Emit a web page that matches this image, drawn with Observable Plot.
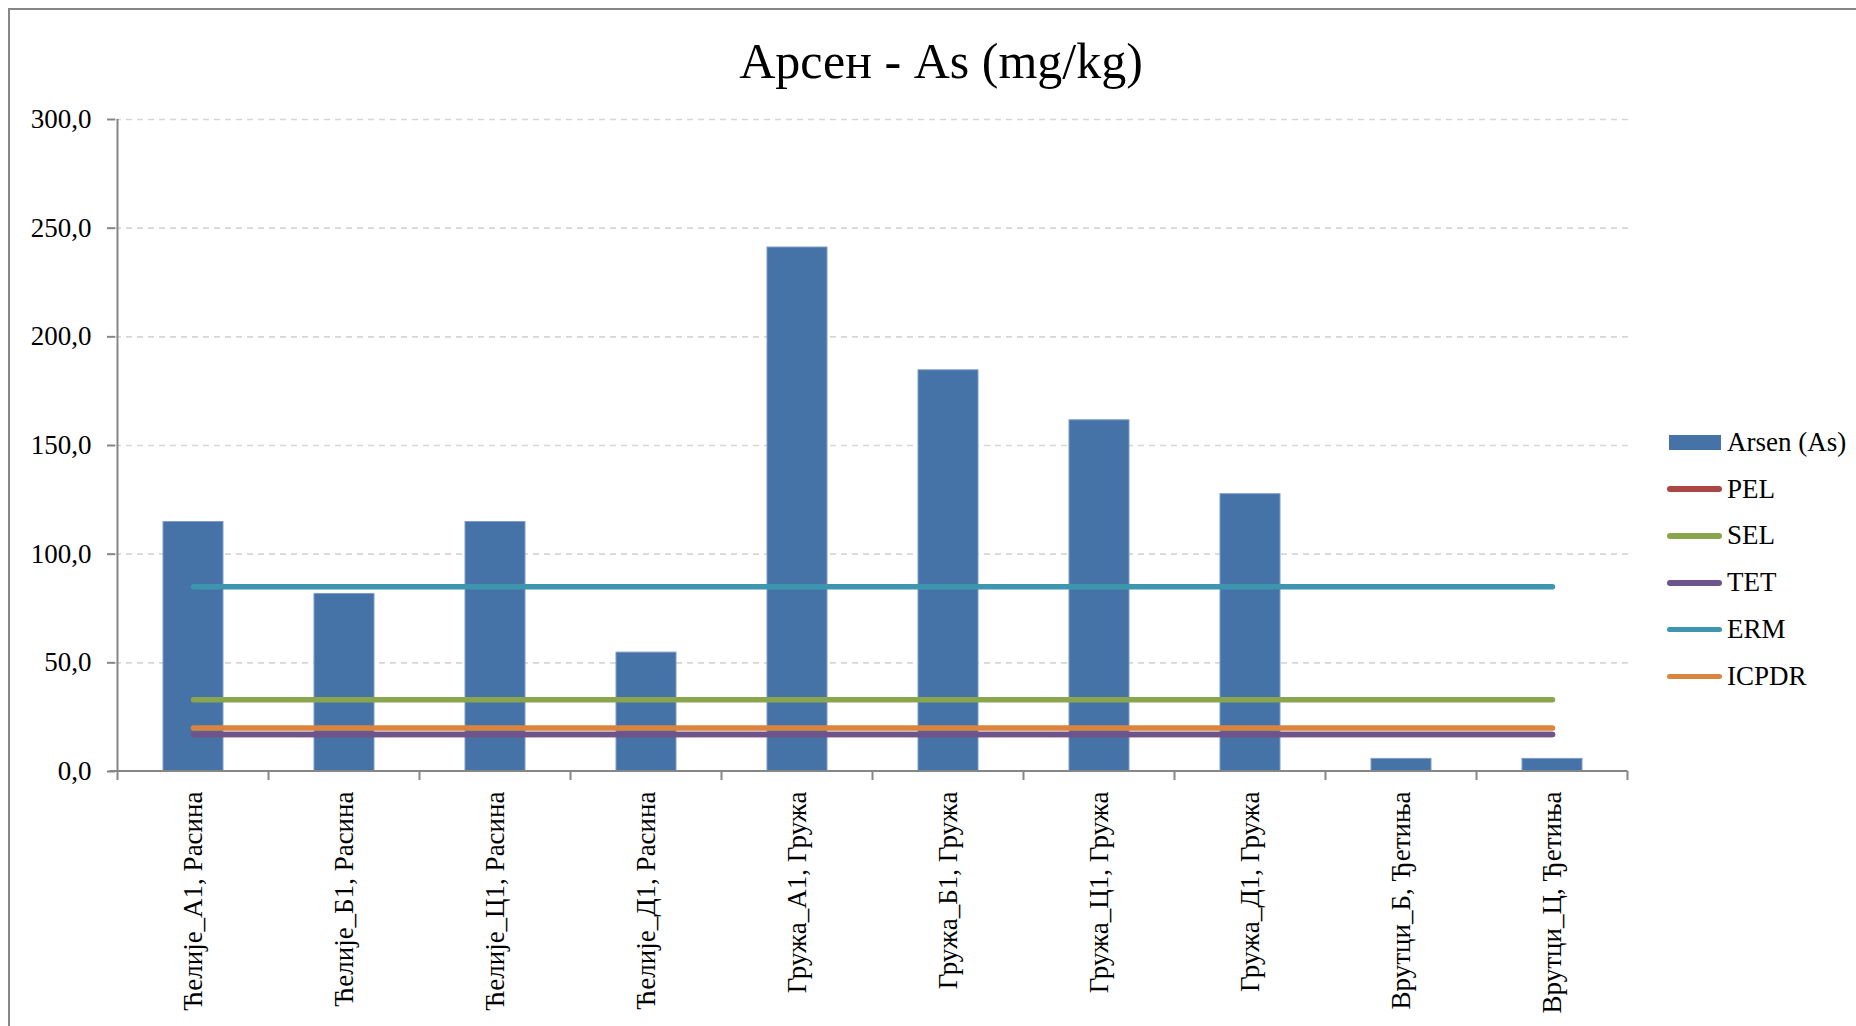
<!DOCTYPE html>
<html>
<head>
<meta charset="utf-8">
<script src="https://cdn.jsdelivr.net/npm/d3@7"></script>
<script src="https://cdn.jsdelivr.net/npm/@observablehq/plot@0.6"></script>
<style>
  html, body { margin: 0; padding: 0; background: #fff; overflow: hidden; width: 1856px; height: 1026px; }
  #frame { position: absolute; left: 8px; top: 8px; width: 1900px; height: 1100px; border: 2px solid #878787; box-sizing: border-box; }
  #chart { position: absolute; left: 0; top: 0; }
  #title { position: absolute; left: 0; top: 36px; width: 1882px; text-align: center; font-family: "Liberation Serif", serif; font-size: 50px; line-height: 50px; color: #000; white-space: nowrap; }
  #legend { position: absolute; left: 1667px; top: 419px; font-family: "Liberation Serif", serif; font-size: 27px; color: #000; }
  .row { display: flex; align-items: center; height: 46.8px; white-space: nowrap; }
  .swbox { width: 60px; display: flex; align-items: center; }
  .swbar { width: 52px; height: 15px; margin-left: 2px; }
  .swline { width: 55px; height: 5.5px; border-radius: 3px; }
</style>
</head>
<body>
<div id="frame"></div>
<div id="chart"></div>
<div id="title"></div>
<div id="legend"></div>
<script>
// ---- data ----
const title = "Арсен - As (mg/kg)";
const categories = [
  "Ћелије_А1, Расина", "Ћелије_Б1, Расина", "Ћелије_Ц1, Расина", "Ћелије_Д1, Расина",
  "Гружа_А1, Гружа", "Гружа_Б1, Гружа", "Гружа_Ц1, Гружа", "Гружа_Д1, Гружа",
  "Врутци_Б, Ђетиња", "Врутци_Ц, Ђетиња"
];
const barSeriesName = "Arsen (As)";
const arsenValues = [114.8, 81.7, 114.8, 54.7, 241.1, 184.6, 161.6, 127.6, 5.8, 5.8];
const thresholdNames = ["PEL", "SEL", "TET", "ERM", "ICPDR"];
const thresholdValues = [17, 33, 17, 85, 20];
const barColor = "#4572A7";
const thresholdColors = ["#AA4643", "#89A54E", "#6E548D", "#3D96AE", "#DB843D"];
const yTicks = [0, 50, 100, 150, 200, 250, 300];

// ---- tables built from the arrays ----
const barData = categories.map((c, i) => ({cat: c, value: arsenValues[i]}));
const lineData = thresholdNames.flatMap((n, j) => categories.map(c => ({cat: c, name: n, value: thresholdValues[j]})));

const fmt = d => d.toFixed(1).replace(".", ",");

function axisLines(index, scales, values, dimensions) {
  const x = scales.x, y = scales.y;
  const bw = typeof x.bandwidth === "function" ? x.bandwidth() : x.bandwidth;
  const step = x(categories[1]) - x(categories[0]);
  const bounds = categories.map(c => x(c) + bw / 2 - step / 2);
  bounds.push(bounds[bounds.length - 1] + step);
  const y0 = y(0), yTop = y(yTicks[yTicks.length - 1]);
  const g = d3.create("svg:g").attr("stroke", "#868686").attr("stroke-width", 2).attr("fill", "none");
  g.append("line").attr("x1", bounds[0]).attr("x2", bounds[0]).attr("y1", yTop).attr("y2", y0);
  g.append("line").attr("x1", bounds[0] - 8).attr("x2", bounds[bounds.length - 1]).attr("y1", y0).attr("y2", y0);
  for (const b of bounds) {
    g.append("line").attr("x1", b).attr("x2", b).attr("y1", y0).attr("y2", y0 + 9);
  }
  return g.node();
}

const chart = Plot.plot({
  width: 1856,
  height: 1026,
  marginLeft: 115,
  marginRight: 227,
  marginTop: 119,
  marginBottom: 255,
  style: {fontFamily: "'Liberation Serif', serif", fontSize: "27px", color: "#000", background: "transparent", overflow: "visible"},
  x: {domain: categories, paddingInner: 0.604, paddingOuter: 0.302, label: null},
  y: {domain: [0, 300], label: null},
  color: {domain: thresholdNames, range: thresholdColors},
  marks: [
    Plot.ruleY(yTicks.filter(t => t > 0), {stroke: "#d6d6d6", strokeWidth: 1.6, strokeDasharray: "6,5"}),
    Plot.barY(barData, {x: "cat", y: "value", fill: barColor, stroke: "#7f9dc6", strokeWidth: 1}),
    Plot.line(lineData, {x: "cat", y: "value", z: "name", stroke: "name", strokeWidth: 5.5, strokeLinecap: "round"}),
    axisLines,
    Plot.axisY(yTicks, {tickSize: 8, tickPadding: 16, tickFormat: fmt, stroke: "#868686", strokeWidth: 2, fill: "#000", fontSize: 27, label: null}),
    Plot.axisX({tickSize: 0, tickRotate: -90, tickPadding: 20, fill: "#000", fontSize: 27, label: null})
  ]
});
document.getElementById("chart").appendChild(chart);
document.getElementById("title").textContent = title;

// ---- legend ----
const legend = document.getElementById("legend");
{
  const row = document.createElement("div"); row.className = "row";
  const box = document.createElement("div"); box.className = "swbox";
  const sw = document.createElement("div"); sw.className = "swbar"; sw.style.background = barColor;
  box.appendChild(sw); row.appendChild(box);
  const t = document.createElement("span"); t.textContent = barSeriesName; row.appendChild(t);
  legend.appendChild(row);
}
thresholdNames.forEach((n, j) => {
  const row = document.createElement("div"); row.className = "row";
  const box = document.createElement("div"); box.className = "swbox";
  const sw = document.createElement("div"); sw.className = "swline"; sw.style.background = thresholdColors[j];
  box.appendChild(sw); row.appendChild(box);
  const t = document.createElement("span"); t.textContent = n; row.appendChild(t);
  legend.appendChild(row);
});
</script>
</body>
</html>
